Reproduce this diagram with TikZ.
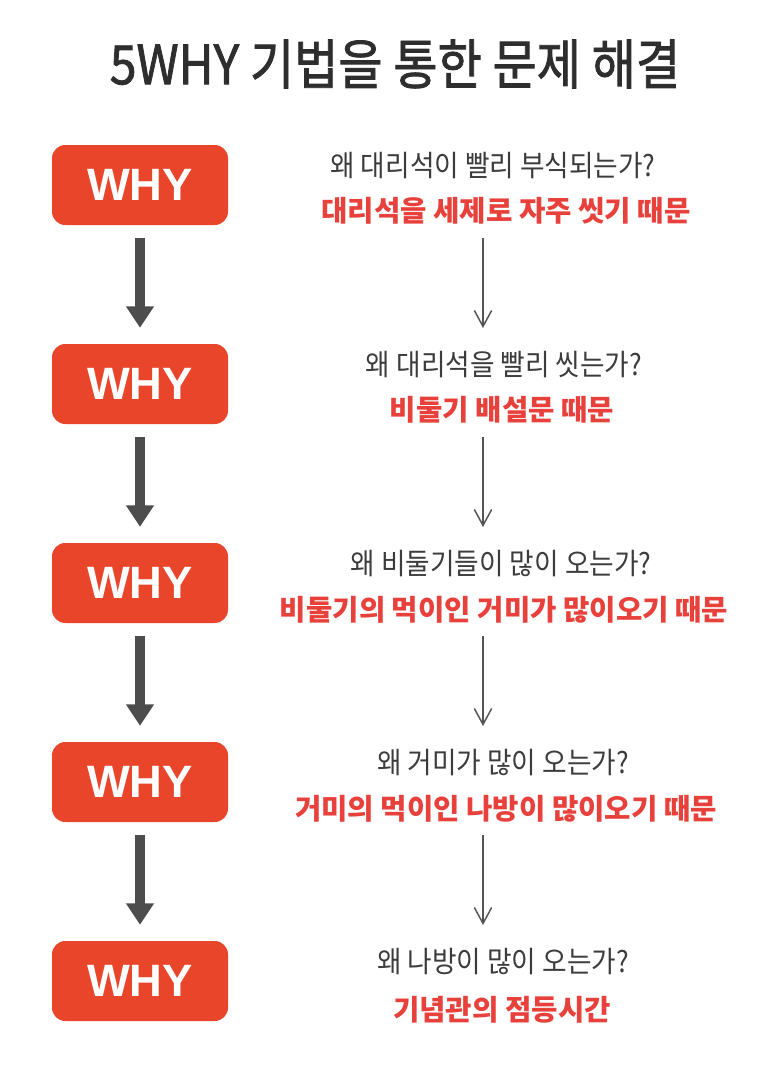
\documentclass[tikz,border=0pt]{standalone}
\usepackage{fontspec}
\usepackage{graphicx}
\newfontfamily\kr{Noto Sans CJK KR}
\newfontfamily\krtitle{Noto Sans CJK KR}[FakeBold=1.6]
\newfontfamily\arial{Liberation Sans}
\usetikzlibrary{arrows.meta}
\definecolor{boxred}{HTML}{E9452B}
\definecolor{ansred}{HTML}{E8403A}
\definecolor{qgray}{HTML}{3C3C3C}
\definecolor{titlegray}{HTML}{2E2E2E}
\definecolor{arrgray}{HTML}{4D4D4D}
\definecolor{thingray}{HTML}{555555}
\tikzset{
  whybox/.style={fill=boxred, rounded corners=10pt, minimum width=132pt, minimum height=60pt,
    text=white, font=\arial\bfseries\fontsize{34}{34}\selectfont, inner sep=0pt},
  titletext/.style={text=titlegray, font=\krtitle\fontsize{40.5}{40.5}\selectfont, inner sep=0pt},
  qtext/.style={text=qgray, font=\kr\fontsize{22}{22}\selectfont, inner sep=0pt},
  anstext/.style={text=ansred, font=\kr\bfseries\fontsize{21.5}{21.5}\selectfont, inner sep=0pt},
  thickarrow/.style={draw=arrgray, line width=7.5pt, -{Triangle[width=20pt,length=16pt]},
    shorten <=9.75pt, shorten >=12pt},
  thinarrow/.style={draw=thingray, line width=1.1pt, -{Straight Barb[width=13pt,length=12pt]}}
}
\begin{document}
\begin{tikzpicture}[x=0.75pt,y=-0.75pt]
\useasboundingbox (0,0) rectangle (776,1078);
\fill[white] (0,0) rectangle (776,1078);

\node[titletext] (title) at (395,64) {\scalebox{0.89}[1]{5WHY 기법을 통한 문제 해결}};

\foreach \i/\yy in {1/185,2/384,3/583,4/782,5/981}{
  \node[whybox] (w\i) at (140,\yy) {WHY};
}
\foreach \a/\b in {1/2,2/3,3/4,4/5}{
  \draw[thickarrow] (w\a.south) -- (w\b.north);
}

\node[qtext] (q1) at (493,166) {\scalebox{0.91}[1]{왜 대리석이 빨리 부식되는가?}};
\node[anstext] (a1) at (506,211) {대리석을 세제로 자주 씻기 때문};
\node[qtext] (q2) at (504,365) {\scalebox{0.91}[1]{왜 대리석을 빨리 씻는가?}};
\node[anstext] (a2) at (502,410) {비둘기 배설문 때문};
\node[qtext] (q3) at (501,564) {\scalebox{0.91}[1]{왜 비둘기들이 많이 오는가?}};
\node[anstext] (a3) at (504,610) {비둘기의 먹이인 거미가 많이오기 때문};
\node[qtext] (q4) at (503,763) {\scalebox{0.91}[1]{왜 거미가 많이 오는가?}};
\node[anstext] (a4) at (506,809) {거미의 먹이인 나방이 많이오기 때문};
\node[qtext] (q5) at (503,962) {\scalebox{0.91}[1]{왜 나방이 많이 오는가?}};
\node[anstext] (a5) at (502,1010) {기념관의 점등시간};

\foreach \i/\ys/\ye in {1/238/328,2/437/527,3/636/726,4/835/925}{
  \coordinate (s\i) at (483,\ys);
  \coordinate (e\i) at (483,\ye);
  \draw[thinarrow] (s\i) -- (e\i);
}
\end{tikzpicture}
\end{document}
